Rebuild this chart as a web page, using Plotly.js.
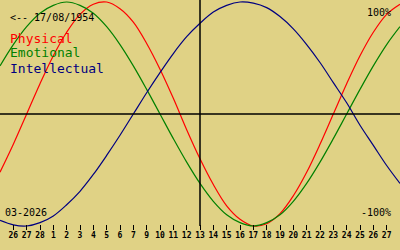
<!DOCTYPE html>
<html>
<head>
<meta charset="utf-8">
<script src="https://cdn.plot.ly/plotly-3.0.1.min.js"></script>
<style>html,body{margin:0;padding:0;background:#e0d285;}#chart{width:400px;height:250px;}</style>
</head>
<body>
<div id="chart"></div>
<script>
// Day tick labels (Feb 26 .. Mar 27, as printed on the chart)
const dayLabels = ["26","27","28","1","2","3","4","5","6","7","9","10","11","12","13","14","15","16","17","18","19","20","21","22","23","24","25","26","27"];
const tickPositions = [0,1,2,3,4,5,6,7,8,9,10,11,12,13,14,15,16,17,18,19,20,21,22,23,24,25,26,27,28];
// Sample positions (tick index) where the curves were read
const samplePositions = [-1,0,1,2,3,4,5,6,7,8,9,10,11,12,13,14,15,16,17,18,19,20,21,22,23,24,25,26,27,28,29];
const physical = [-0.52,-0.27,0,0.27,0.52,0.73,0.89,0.98,1.00,0.94,0.82,0.63,0.40,0.14,-0.14,-0.40,-0.63,-0.82,-0.94,-1.00,-0.98,-0.89,-0.73,-0.52,-0.27,0,0.27,0.52,0.73,0.89,0.98];
const emotional = [0.43,0.62,0.78,0.90,0.97,1.00,0.97,0.90,0.78,0.62,0.43,0.22,0,-0.22,-0.43,-0.62,-0.78,-0.90,-0.97,-1.00,-0.97,-0.90,-0.78,-0.62,-0.43,-0.22,0,0.22,0.43,0.62,0.78];
const intellectual = [-0.95,-0.99,-1.00,-0.97,-0.91,-0.81,-0.69,-0.54,-0.37,-0.19,0,0.19,0.37,0.54,0.69,0.81,0.91,0.97,1.00,0.99,0.95,0.87,0.76,0.62,0.46,0.28,0.10,-0.10,-0.28,-0.46,-0.62];
const seriesNames = ["Physical","Emotional","Intellectual"];
const birthText = "<-- 17/08/1954";
const monthText = "03-2026";
const centerTick = 14;

const colors = ["#ff0000","#008000","#000080"];
const BG = "#e0d285";
const MONO = "DejaVu Sans Mono, Liberation Mono, monospace";

const traces = [physical, emotional, intellectual].map((vals, i) => ({
  x: samplePositions, y: vals, type: "scatter", mode: "lines",
  line: {color: colors[i], width: 1.2, shape: "spline", smoothing: 1},
  name: seriesNames[i], hoverinfo: "skip"
}));

const px = v => v / 400;
const py = v => 1 - v / 250;

const annotations = [
  {text: birthText, x: px(9), y: py(17), color: "#000", size: 10, anchor: "left"},
  {text: seriesNames[0], x: px(9), y: py(38), color: colors[0], size: 13, anchor: "left"},
  {text: seriesNames[1], x: px(9), y: py(53), color: colors[1], size: 13, anchor: "left"},
  {text: seriesNames[2], x: px(9), y: py(68), color: colors[2], size: 13, anchor: "left"},
  {text: "100%", x: px(392), y: py(12), color: "#000", size: 10, anchor: "right"},
  {text: "-100%", x: px(392), y: py(212), color: "#000", size: 10, anchor: "right"},
  {text: monthText, x: px(4), y: py(212), color: "#000", size: 10, anchor: "left"}
].map(a => ({
  text: a.text, xref: "paper", yref: "paper", x: a.x, y: a.y,
  xanchor: a.anchor, yanchor: "middle", showarrow: false,
  font: {family: MONO, size: a.size, color: a.color}, borderpad: 0
}));

const layout = {
  width: 400, height: 250,
  margin: {l: 0, r: 0, t: 0, b: 0, pad: 0},
  paper_bgcolor: BG, plot_bgcolor: BG,
  showlegend: false,
  xaxis: {
    range: [-1, 29], anchor: "free", position: 0.104,
    tickvals: tickPositions, ticktext: dayLabels,
    ticks: "outside", ticklen: 5, tickwidth: 1, tickcolor: "#000",
    ticklabelstandoff: -2,
    showgrid: false, zeroline: false, showline: false,
    tickfont: {family: MONO, size: 8, color: "#000", weight: "bold"}
  },
  yaxis: {range: [-1.2143, 1.0179], visible: false, showgrid: false, zeroline: false},
  shapes: [
    {type: "line", xref: "paper", yref: "y", x0: 0, x1: 1, y0: 0, y1: 0, line: {color: "#000", width: 1.5}},
    {type: "line", xref: "x", yref: "paper", x0: centerTick, x1: centerTick, y0: py(226), y1: 1, line: {color: "#000", width: 1.5}}
  ],
  annotations: annotations
};

Plotly.newPlot("chart", traces, layout, {staticPlot: true, displayModeBar: false});
</script>
</body>
</html>
